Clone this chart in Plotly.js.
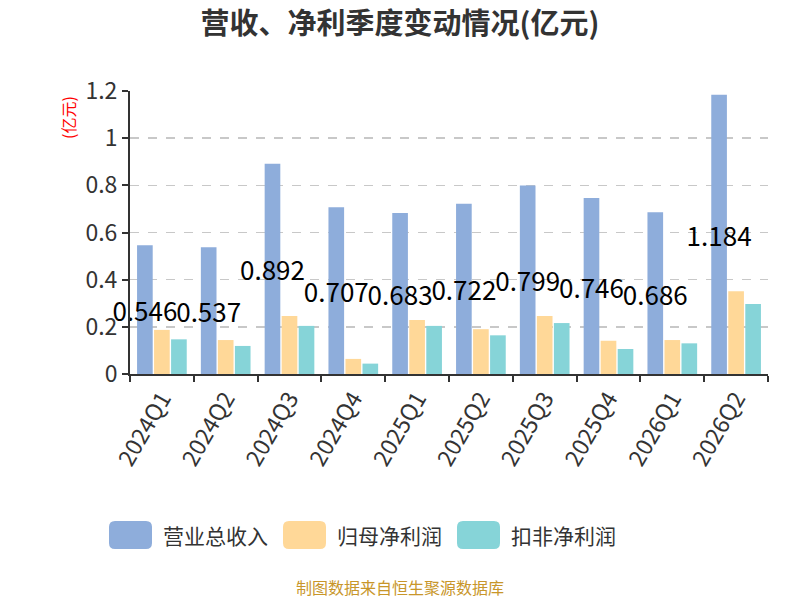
<!DOCTYPE html>
<html>
<head>
<meta charset="utf-8">
<script src="https://cdn.plot.ly/plotly-3.0.1.min.js"></script>
<style>
  html, body { margin: 0; padding: 0; background: #fff; }
  #chart { width: 800px; height: 600px; }
</style>
</head>
<body>
<div id="chart"></div>
<script>
const quarters = ["2024Q1", "2024Q2", "2024Q3", "2024Q4", "2025Q1", "2025Q2", "2025Q3", "2025Q4", "2026Q1", "2026Q2"];
const revenue = [0.546, 0.537, 0.892, 0.707, 0.683, 0.722, 0.799, 0.746, 0.686, 1.184];
const netProfit = [0.187, 0.144, 0.246, 0.064, 0.229, 0.19, 0.246, 0.141, 0.144, 0.351];
const deductedProfit = [0.147, 0.119, 0.204, 0.044, 0.204, 0.164, 0.216, 0.106, 0.13, 0.297];
const yTicks = [0, 0.2, 0.4, 0.6, 0.8, 1, 1.2];
const seriesNames = ["营业总收入", "归母净利润", "扣非净利润"];
const seriesColors = ["#8eaddb", "#ffd898", "#86d4d8"];

const font = "'Noto Sans CJK SC', 'Noto Sans', sans-serif";

// plot area in pixels, used to place the hand-made legend in paper units
const plotL = 130, plotW = 638, plotT = 91, plotH = 283;
const px = x => (x - plotL) / plotW;
const py = y => (plotT + plotH - y) / plotH;

const traces = [
  {
    type: "bar", name: seriesNames[0], x: quarters, y: revenue,
    marker: { color: seriesColors[0] },
    text: revenue.map(v => String(v)),
    textposition: "inside",
    insidetextanchor: "middle",
    constraintext: "none",
    textangle: 0,
    insidetextfont: { color: "#000", size: 26, family: font },
    cliponaxis: false,
    hoverinfo: "skip"
  },
  {
    type: "bar", name: seriesNames[1], x: quarters, y: netProfit,
    marker: { color: seriesColors[1] }, hoverinfo: "skip"
  },
  {
    type: "bar", name: seriesNames[2], x: quarters, y: deductedProfit,
    marker: { color: seriesColors[2] }, hoverinfo: "skip"
  }
];

// legend: wide rounded swatches like the original
const shapes = [];
const annotations = [];
seriesNames.forEach((name, i) => {
  const x0 = 109 + i * 174, x1 = x0 + 43, y0 = 521, y1 = 549, r = 6;
  const X0 = px(x0), X1 = px(x1), Y0 = py(y0), Y1 = py(y1);
  const rx = r / plotW, ry = r / plotH;
  shapes.push({
    type: "path", xref: "paper", yref: "paper",
    path: `M ${X0 + rx},${Y0} L ${X1 - rx},${Y0} Q ${X1},${Y0} ${X1},${Y0 - ry} ` +
          `L ${X1},${Y1 + ry} Q ${X1},${Y1} ${X1 - rx},${Y1} L ${X0 + rx},${Y1} ` +
          `Q ${X0},${Y1} ${X0},${Y1 + ry} L ${X0},${Y0 - ry} Q ${X0},${Y0} ${X0 + rx},${Y0} Z`,
    fillcolor: seriesColors[i], line: { width: 0 }
  });
  annotations.push({
    text: name, xref: "paper", yref: "paper",
    x: px(x1 + 9), y: py(535), xanchor: "left", yanchor: "middle",
    showarrow: false, font: { size: 21, color: "#333" }
  });
});

annotations.push(
  {
    text: "(亿元)", xref: "paper", yref: "paper",
    x: px(68), y: py(118), xanchor: "center", yanchor: "middle",
    textangle: -90, showarrow: false,
    font: { size: 16, color: "#ff0000" }
  },
  {
    text: "制图数据来自恒生聚源数据库", xref: "paper", yref: "paper",
    x: px(400), y: py(587), xanchor: "center", yanchor: "middle",
    showarrow: false,
    font: { size: 16, color: "#c8962a" }
  }
);

const layout = {
  width: 800, height: 600,
  margin: { l: plotL, r: 800 - plotL - plotW, t: plotT, b: 600 - plotT - plotH },
  paper_bgcolor: "#fff", plot_bgcolor: "#fff",
  font: { family: font, color: "#333" },
  showlegend: false,
  title: {
    text: "<b>营收、净利季度变动情况(亿元)</b>",
    x: 0.5, xanchor: "center", y: 0.96, yanchor: "middle",
    font: { size: 29, color: "#333", family: font }
  },
  barmode: "group",
  bargap: 0.2,
  bargroupgap: 0.08,
  xaxis: {
    type: "category",
    tickson: "boundaries",
    ticks: "outside", ticklen: 6, tickwidth: 2, tickcolor: "#333",
    showline: true, linecolor: "#333", linewidth: 2,
    tickangle: -60,
    tickfont: { size: 23, color: "#333" },
    showgrid: false
  },
  yaxis: {
    range: [0, 1.2],
    tickvals: yTicks,
    ticktext: yTicks.map(v => String(v)),
    ticks: "outside", ticklen: 6, tickwidth: 2, tickcolor: "#333",
    showline: true, linecolor: "#333", linewidth: 2,
    tickfont: { size: 23, color: "#333" },
    showgrid: true, gridcolor: "#c8c8c8", griddash: "dash", gridwidth: 1.5,
    zeroline: false
  },
  shapes,
  annotations
};

Plotly.newPlot("chart", traces, layout, { displayModeBar: false, staticPlot: true });
</script>
</body>
</html>
